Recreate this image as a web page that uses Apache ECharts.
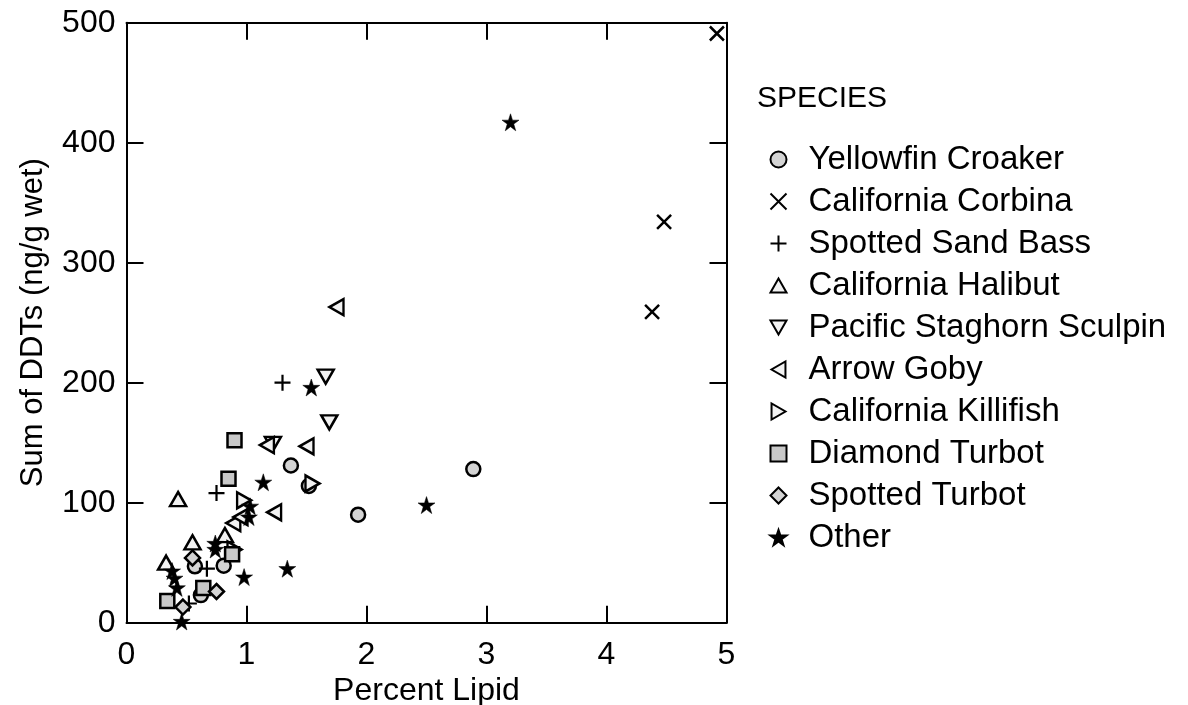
<!DOCTYPE html>
<html><head><meta charset="utf-8">
<script src="https://cdn.jsdelivr.net/npm/echarts@6/dist/echarts.min.js"></script>
<style>html,body{margin:0;padding:0;background:#fff}#c{width:1188px;height:705px}</style>
</head><body><div id="c"></div>
<script>
const xTicks = [0,1,2,3,4,5];
const yTicks = [0,100,200,300,400,500];
const speciesNames = ["Yellowfin Croaker","California Corbina","Spotted Sand Bass","California Halibut","Pacific Staghorn Sculpin","Arrow Goby","California Killifish","Diamond Turbot","Spotted Turbot","Other"];
const yellowfin = [[0.57,47],[0.62,23],[0.81,47.5],[1.37,131],[1.52,114],[1.93,90],[2.89,128]];
const corbina = [[4.38,259],[4.48,334],[4.92,491]];
const sandBass = [[0.52,16],[0.67,45],[0.75,108],[1.30,200]];
const halibut = [[0.33,50],[0.43,103],[0.55,67],[0.82,73]];
const staghorn = [[1.22,149],[1.66,205],[1.69,167]];
const arrowGoby = [[0.89,83],[0.95,88],[1.17,148],[1.23,92],[1.50,147],[1.75,263]];
const killifish = [[0.90,61],[0.98,102],[1.55,116]];
const diamondTurbot = [[0.34,18],[0.64,29],[0.85,120],[0.88,57],[0.90,152]];
const spottedTurbot = [[0.47,13],[0.55,54],[0.75,26]];
const other = [[0.38,43],[0.40,37],[0.42,29],[0.46,1],[0.74,66],[0.74,61],[0.98,38],[1.02,88],[1.03,97],[1.14,117],[1.34,45],[1.54,196],[2.50,98],[3.20,417]];

const STAR = 'path://M50,0 L61.8,35.4 L100,35.4 L69.1,57.3 L80.9,95 L50,72.4 L19.1,95 L30.9,57.3 L0,35.4 L38.2,35.4 Z';
const XS = 'path://M0,0 L100,100 M100,0 L0,100';
const PLUS = 'path://M50,0 L50,100 M0,50 L100,50';
const TRI_UP = 'path://M50,0 L100,87 L0,87 Z';
const TRI_DOWN = 'path://M0,0 L100,0 L50,87 Z';
const TRI_LEFT = 'path://M87,0 L87,100 L0,50 Z';
const TRI_RIGHT = 'path://M0,0 L0,100 L87,50 Z';
const F = 'Liberation Sans, Arial, Helvetica, sans-serif';

function S(name, data, symbol, size, fill, bw){
  return {name, type:'scatter', data, symbol, symbolSize:size,
    itemStyle:{color:fill, borderColor:'#000', borderWidth:bw, opacity:1},
    emphasis:{disabled:true}, xAxisIndex:0, yAxisIndex:0};
}
const series = [
  S(speciesNames[0], yellowfin, 'circle', 14, '#d4d4d4', 2.5),
  S(speciesNames[1], corbina, XS, 14, 'none', 2.5),
  S(speciesNames[2], sandBass, PLUS, 16, 'none', 2.2),
  S(speciesNames[3], halibut, TRI_UP, [16,14], '#f2f2f2', 2.5),
  S(speciesNames[4], staghorn, TRI_DOWN, [16,14], '#f2f2f2', 2.5),
  S(speciesNames[5], arrowGoby, TRI_LEFT, [14,16], '#f2f2f2', 2.5),
  S(speciesNames[6], killifish, TRI_RIGHT, [14,16], '#f2f2f2', 2.5),
  S(speciesNames[7], diamondTurbot, 'rect', 14, '#c8c8c8', 2.5),
  S(speciesNames[8], spottedTurbot, 'diamond', 15, '#d4d4d4', 2.5),
  S(speciesNames[9], other, STAR, 17, '#000', 0.5)
];

const axisCommon = {
  axisLine:{show:true, onZero:false, lineStyle:{color:'#000', width:2}},
  axisTick:{show:true, inside:true, length:17, lineStyle:{color:'#000', width:2}},
  splitLine:{show:false}
};
const chart = echarts.init(document.getElementById('c'), null, {renderer:'canvas'});
chart.setOption({
  backgroundColor:'#fff',
  animation:false,
  title:{text:'SPECIES', left:752, top:79, textStyle:{fontFamily:F, fontSize:30, fontWeight:'normal', color:'#000'}},
  legend:{orient:'vertical', left:763, top:138, itemWidth:16, itemHeight:16, itemGap:9,
    data:speciesNames,
    textStyle:{fontFamily:F, fontSize:33, color:'#000', padding:[0,0,0,17]}},
  grid:{left:126.5, top:22.7, width:600, height:600, containLabel:false, outerBoundsMode:'none'},
  xAxis:[
    Object.assign({type:'value', position:'bottom', min:xTicks[0], max:xTicks[xTicks.length-1], interval:1,
      name:'Percent Lipid', nameLocation:'middle', nameGap:49,
      nameTextStyle:{fontFamily:F, fontSize:32, color:'#000'},
      axisLabel:{show:true, fontFamily:F, fontSize:32, color:'#000', margin:16,
        formatter:v=>xTicks.includes(v)?String(v):''}}, axisCommon),
    Object.assign({type:'value', position:'top', min:0, max:5, interval:1, axisLabel:{show:false}}, axisCommon)
  ],
  yAxis:[
    Object.assign({type:'value', position:'left', min:yTicks[0], max:yTicks[yTicks.length-1], interval:100,
      name:'Sum of DDTs (ng/g wet)', nameLocation:'middle', nameGap:78,
      nameTextStyle:{fontFamily:F, fontSize:31, color:'#000'},
      axisLabel:{show:true, fontFamily:F, fontSize:32, color:'#000', margin:11,
        formatter:v=>yTicks.includes(v)?String(v):''}}, axisCommon),
    Object.assign({type:'value', position:'right', min:0, max:500, interval:100, axisLabel:{show:false}}, axisCommon)
  ],
  series
});
</script></body></html>
